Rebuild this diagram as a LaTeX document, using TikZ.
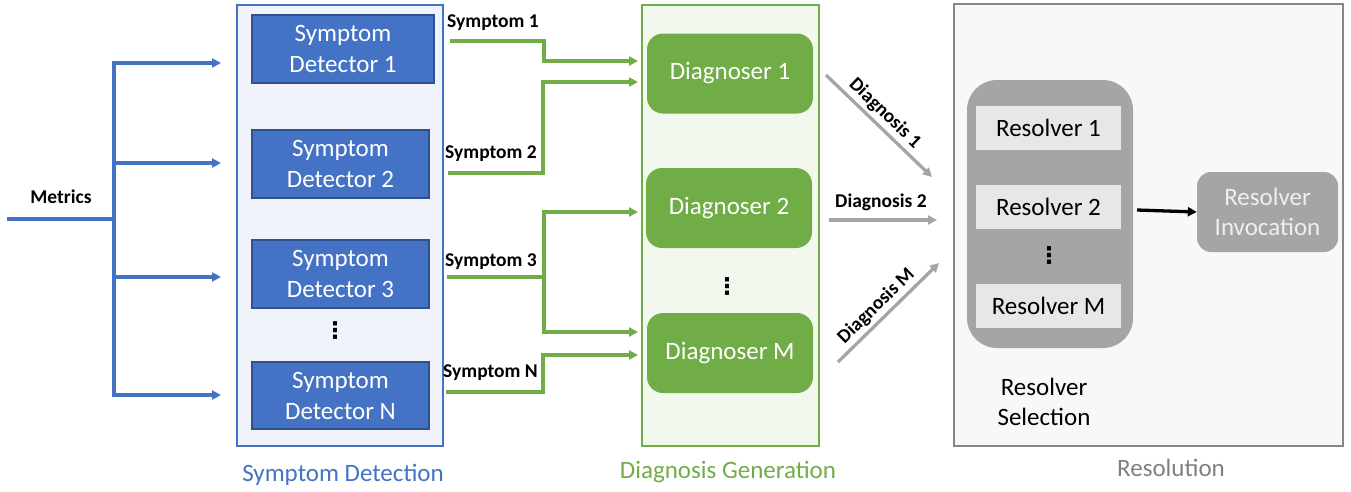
\documentclass[tikz,border=0pt]{standalone}
\usepackage{fontspec}
\setmainfont{Carlito}
\newfontfamily\dejavu{DejaVu Sans}
\usetikzlibrary{arrows.meta}
\definecolor{cblue}{HTML}{4472C4}
\definecolor{cbluedark}{HTML}{2F528F}
\definecolor{cbluebg}{HTML}{F0F3F9}
\definecolor{cgreen}{HTML}{70AD47}
\definecolor{cgreenbg}{HTML}{F3F8EF}
\definecolor{cgray}{HTML}{A5A5A5}
\definecolor{cgraybg}{HTML}{F8F8F8}
\definecolor{cgrayborder}{HTML}{878787}
\definecolor{cresbox}{HTML}{E7E7E7}
\definecolor{cinvtext}{HTML}{EFEFEF}
\definecolor{cresol}{HTML}{7F7F7F}
\begin{document}
\begin{tikzpicture}[x=1pt,y=-1pt,
  boxbase/.style={rectangle, inner sep=0pt, align=center},
  panel/.style={boxbase, line width=1.2pt},
  detector/.style={boxbase, fill=cblue, draw=cbluedark, line width=1.2pt, text=white, font=\fontsize{25}{31}\selectfont, minimum height=68pt},
  diagnoser/.style={boxbase, rounded corners=16pt, fill=cgreen, text=white, font=\fontsize{25}{30}\selectfont, minimum width=166pt, minimum height=80pt},
  resolver/.style={boxbase, fill=cresbox, text=black, font=\fontsize{25}{30}\selectfont, minimum width=145pt, minimum height=44pt},
  bigtext/.style={inner sep=0pt, align=center, font=\fontsize{25}{30}\selectfont},
  smalllabel/.style={inner sep=0pt, font=\bfseries\fontsize{19.5}{22}\selectfont},
  vdots/.style={inner sep=0pt, font=\dejavu\bfseries\fontsize{23}{24}\selectfont},
  tip/.style={-{Triangle[length=9pt,width=9pt]}},
  bline/.style={draw=cblue, line width=3.3pt},
  gline/.style={draw=cgreen, line width=3.3pt, tip},
  grline/.style={draw=cgray, line width=3.3pt, tip},
]
\useasboundingbox (0,0) rectangle (1351,491);

% panels
\node[panel, draw=cblue, fill=cbluebg, minimum width=206pt, minimum height=441pt] (sdpanel) at (340,225.5) {};
\node[panel, draw=cgreen, fill=cgreenbg, minimum width=177pt, minimum height=441pt] (dgpanel) at (730.5,225.5) {};
\node[panel, draw=cgrayborder, fill=cgraybg, minimum width=389pt, minimum height=442pt] (rspanel) at (1148.5,225) {};

% panel titles
\node[bigtext, text=cblue] (sdtitle) at (343,475) {Symptom Detection};
\node[bigtext, text=cgreen] (dgtitle) at (728,472) {Diagnosis Generation};
\node[bigtext, text=cresol] (rstitle) at (1171,468) {Resolution};

% detectors
\node[detector, minimum width=182pt] (d1) at (343,49) {Symptom\\Detector 1};
\node[detector, minimum width=177pt] (d2) at (340.5,164) {Symptom\\Detector 2};
\node[detector, minimum width=177pt] (d3) at (340.5,274) {Symptom\\Detector 3};
\node[detector, minimum width=177pt, minimum height=67pt] (dn) at (340.5,395.5) {Symptom\\Detector N};
\node[vdots] (ddots) at (335,331) {⋮};

% diagnosers
\node[diagnoser] (g1) at (730,73.5) {Diagnoser 1};
\node[diagnoser] (g2) at (729,208) {Diagnoser 2};
\node[diagnoser] (gm) at (730,353) {Diagnoser M};
\node[vdots] (gdots) at (727,287) {⋮};

% resolution
\node[boxbase, fill=cgray, rounded corners=30pt, minimum width=166pt, minimum height=268pt] (sel) at (1050,214) {};
\node[resolver] (r1) at (1048.5,128) {Resolver 1};
\node[resolver] (r2) at (1048.5,206.5) {Resolver 2};
\node[resolver] (rm) at (1048.5,306) {Resolver M};
\node[vdots] (rdots) at (1049,256) {⋮};
\node[bigtext] (seltitle) at (1044,402) {Resolver\\Selection};
\node[boxbase, fill=cgray, rounded corners=14pt, minimum width=141pt, minimum height=80pt, text=cinvtext, font=\fontsize{25}{29.5}\selectfont] (inv) at (1267.5,212) {Resolver\\Invocation};

% metrics input
\node[smalllabel] (metrics) at (61,197) {Metrics};
\coordinate (mstart) at (7,219);
\coordinate (mjoin) at (114,219);
\coordinate (a1) at (221,63);
\coordinate (a2) at (221,163);
\coordinate (a3) at (221,277);
\coordinate (a4) at (221,395);
\draw[bline] (mstart) -- (mjoin);
\draw[bline, tip] (mjoin) |- (a1);
\draw[bline, tip] (mjoin) |- (a2);
\draw[bline, tip] (mjoin) |- (a3);
\draw[bline, tip] (mjoin) |- (a4);

% symptom connectors
\coordinate (s1) at (450,41);
\coordinate (s2) at (448,173);
\coordinate (s3) at (447,277);
\coordinate (s4) at (446,392);
\coordinate (e1) at (638,61);
\coordinate (e2) at (638,82);
\coordinate (e3a) at (638,212);
\coordinate (e3b) at (638,332);
\coordinate (e4) at (638,355);
\draw[gline] (s1) -- ++(94,0) |- (e1);
\draw[gline] (s2) -- ++(95,0) |- (e2);
\draw[gline] (s3) -- ++(97,0) |- (e3a);
\draw[gline] (s3) -- ++(97,0) |- (e3b);
\draw[gline] (s4) -- ++(97,0) |- (e4);
\node[smalllabel, anchor=west] (l1) at (447,23) {Symptom 1};
\node[smalllabel, anchor=west] (l2) at (445,154) {Symptom 2};
\node[smalllabel, anchor=west] (l3) at (445,262) {Symptom 3};
\node[smalllabel, anchor=west] (l4) at (443,373) {Symptom N};

% diagnosis connectors
\coordinate (q1s) at (826,75);
\coordinate (q1e) at (932,177);
\coordinate (q2s) at (829,220);
\coordinate (q2e) at (937,220);
\coordinate (q3s) at (838,362);
\coordinate (q3e) at (939,263);
\draw[grline] (q1s) -- (q1e) node[smalllabel, sloped, above, pos=0.47, inner sep=3pt] (ql1) {Diagnosis 1};
\draw[grline] (q2s) -- (q2e);
\node[smalllabel] (ql2) at (881,202) {Diagnosis 2};
\draw[grline] (q3s) -- (q3e) node[smalllabel, sloped, above, pos=0.47, inner sep=3pt] (ql3) {Diagnosis M};

% selection to invocation
\coordinate (bs) at (1137,210);
\draw[line width=3.3pt, -{Triangle[length=9pt,width=9pt]}] (bs) -- (inv.west);
\end{tikzpicture}
\end{document}
